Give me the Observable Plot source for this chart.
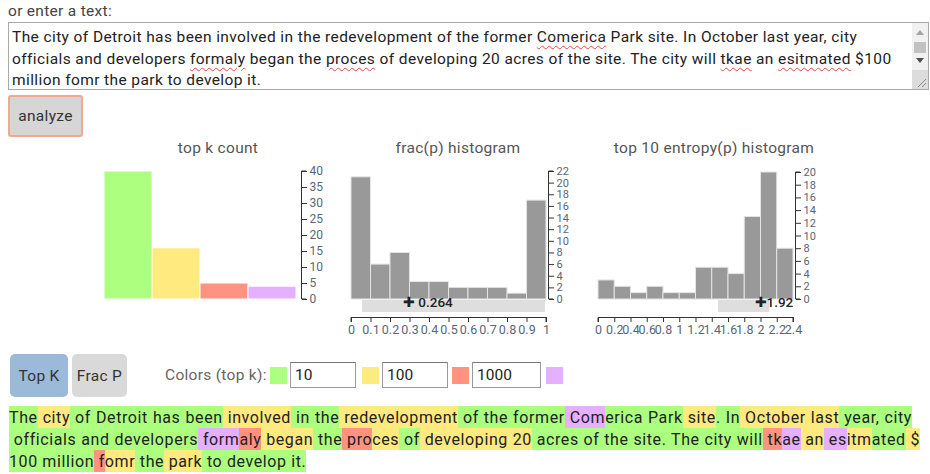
<!DOCTYPE html>
<html><head><meta charset="utf-8">
<script src="https://cdn.jsdelivr.net/npm/d3@7"></script>
<script src="https://cdn.jsdelivr.net/npm/@observablehq/plot@0.6"></script>
<style>
body{margin:0;background:#fff;font-family:Roboto,"Noto Sans",sans-serif;color:#333;}
#root{position:relative;width:930px;height:474px;overflow:hidden;}
.abs{position:absolute;}
.lbl{left:8px;top:2px;font-size:15.5px;color:#444;letter-spacing:0.3px;}
.ta{left:8px;top:22px;width:919px;height:66px;border:1px solid #a9a9a9;background:#fff;overflow:hidden;}
.ta .txt{position:absolute;left:3px;top:4px;font-size:15.5px;letter-spacing:0.4px;line-height:21.5px;color:#222;white-space:pre;}
.mis{text-decoration:underline wavy #e64545;text-decoration-thickness:1px;text-underline-offset:3px;}
.sb{position:absolute;right:0;top:0;width:16px;height:66px;background:#f1f1f1;}
.btn{font-size:15.5px;color:#333;display:flex;align-items:center;justify-content:center;box-sizing:border-box;letter-spacing:0.3px;}
.title{font-size:15.5px;color:#555;text-align:center;letter-spacing:0.3px;white-space:nowrap;}
.inp{box-sizing:border-box;height:26px;border:1px solid #999;border-top-color:#777;background:#fff;font-size:15.5px;color:#222;padding-left:4px;line-height:24px;}
.sw{width:17px;height:17px;}
.tok{padding:1.5px 0;}
.line{left:9px;font-size:16px;letter-spacing:0.6px;line-height:22px;height:22px;color:#222;white-space:nowrap;}
.just{text-align:justify;text-align-last:justify;}
svg g[aria-label^="y-axis"] text, svg g[aria-label^="x-axis"] text{fill:#5b6677;}
svg g[aria-label^="x-axis"] text{font-size:12.5px;}
svg.hist g[aria-label^="y-axis"] text{font-size:11px;}
</style></head><body><div id="root"></div>
<script>
// ---------------- data ----------------
const inputLines = [
  "The city of Detroit has been involved in the redevelopment of the former Comerica Park site. In October last year, city",
  "officials and developers formaly began the proces of developing 20 acres of the site. The city will tkae an esitmated $100",
  "million fomr the park to develop it."
];
const misspelled = ["Comerica","formaly","proces","tkae","esitmated"];

const rankColors = ["#ADFF80","#FFEA80","#FF9280","#E5B0FF"];
const rankLabels = ["top 10","top 100","top 1000","rest"];
const topKCounts = [40,16,5,4];
const topKTicks = [0,5,10,15,20,25,30,35,40];

const fracEdges = [0,0.1,0.2,0.3,0.4,0.5,0.6,0.7,0.8,0.9,1];
const fracCounts = [21,6,8,3,3,2,2,2,1,17];
const fracYTicks = [0,2,4,6,8,10,12,14,16,18,20,22];
const fracMean = 0.264;
const fracBand = [0.056,0.995];

const entEdges = [0,0.2,0.4,0.6,0.8,1,1.2,1.4,1.6,1.8,2,2.2,2.4];
const entCounts = [3,2,1,2,1,1,5,5,4,13,20,8];
const entYTicks = [0,2,4,6,8,10,12,14,16,18,20];
const entMean = 1.92;
const entBand = [1.477,2.105];

const kThresholds = ["10","100","1000"];

const line1Tokens = ["The"," city"," of"," Detroit"," has"," been"," involved"," in"," the"," redevelopment"," of"," the"," former"," Com","erica"," Park"," site","."," In"," October"," last"," year",","," city"];
const line1Ranks  = [0,1,0,0,0,0,1,0,0,1,0,0,0,3,0,0,1,0,0,1,1,0,0,0];
const line2Tokens = [" officials"," and"," developers"," form","aly"," began"," the"," pro","ces"," of"," developing"," 20"," acres"," of"," the"," site","."," The"," city"," will"," tk","ae"," an"," es","itm","ated"," $"];
const line2Ranks  = [0,0,0,3,2,1,0,2,1,0,1,1,0,0,0,0,0,0,0,0,2,3,1,3,1,0,1];
const line3Tokens = ["100"," million"," f","omr"," the"," park"," to"," develop"," it","."];
const line3Ranks  = [0,0,2,1,0,1,0,0,0,0];

// ---------------- layout helpers ----------------
const root = d3.select("#root");
const FONT = "Roboto, 'Noto Sans', sans-serif";
function box(cls, left, top, w, h){
  const d = root.append("div").attr("class","abs "+cls).style("left",left+"px").style("top",top+"px");
  if (w!=null) d.style("width",w+"px");
  if (h!=null) d.style("height",h+"px");
  return d;
}

// label + textarea
box("lbl",8,2).text("or enter a text:");
const ta = box("ta",8,22);
const txt = ta.append("div").attr("class","txt");
inputLines.forEach(line=>{
  const row = txt.append("div");
  line.split(/(\s+)/).forEach(part=>{
    const w = part.replace(/[.,]/g,"");
    row.append("span").attr("class", misspelled.includes(w) ? "mis" : null).text(part);
  });
});
const sb = ta.append("div").attr("class","sb");
sb.append("div").style("position","absolute").style("left","4px").style("top","7px").style("width","0").style("height","0")
  .style("border-left","4px solid transparent").style("border-right","4px solid transparent").style("border-bottom","5px solid #a3a3a3");
sb.append("div").style("position","absolute").style("left","2px").style("top","19px").style("width","12px").style("height","11px").style("background","#c1c1c1");
sb.append("div").style("position","absolute").style("left","4px").style("top","35px").style("width","0").style("height","0")
  .style("border-left","4px solid transparent").style("border-right","4px solid transparent").style("border-top","5px solid #505050");
sb.append("div").style("position","absolute").style("left","0").style("top","47px").style("width","16px").style("height","19px").style("background","#dcdcdc")
  .html('<svg width="16" height="19"><path d="M6,17L14,9M10,17L14,13" stroke="#8a8a8a" stroke-width="1"/></svg>');

// analyze button
box("btn",8,95,75,42).style("background","#d6d6d6").style("border","2px solid #f3a88e").style("border-radius","3px").text("analyze");

// titles
box("title",118,139,200).text("top k count");
box("title",358,139,200).text("frac(p) histogram");
box("title",584,139,260).text("top 10 entropy(p) histogram");

// ---------------- charts ----------------
const baseStyle = {fontFamily: FONT, fontSize: "12px", color: "#333", background: "transparent", overflow: "visible"};

function addDomainY(svgNode, plot, axisX){
  const r = plot.scale("y").range;
  d3.select(svgNode).append("path").attr("fill","none").attr("stroke","#333")
    .attr("d", `M${axisX+5},${r[1]}H${axisX+0.5}V${r[0]}H${axisX+5}`);
}
function addDomainX(svgNode, plot, axisY){
  const r = plot.scale("x").range;
  d3.select(svgNode).append("path").attr("fill","none").attr("stroke","#333")
    .attr("d", `M${r[0]},${axisY+5}V${axisY+0.5}H${r[1]}V${axisY+5}`);
}

// chart 1: top k count
const topKData = rankLabels.map((k,i)=>({k, n: topKCounts[i], c: rankColors[i]}));
const c1 = Plot.plot({
  width: 240, height: 170, marginLeft: 12, marginRight: 29, marginTop: 33, marginBottom: 9,
  style: baseStyle,
  x: {domain: rankLabels, axis: null, padding: 0, insetRight: 4},
  y: {domain: [0,40], ticks: topKTicks, axis: "right", tickSize: 5, tickPadding: 3, label: null},
  color: {type: "identity"},
  marks: [ Plot.barY(topKData, {x: "k", y: "n", fill: "c", stroke: "#fff", strokeWidth: 1}) ]
});
root.append(()=>c1).style("position","absolute").style("left","90px").style("top","138px");
addDomainY(c1, c1, 240-29);

// chart 2: frac(p) histogram
const fracBins = fracCounts.map((n,i)=>({x1: fracEdges[i], x2: fracEdges[i+1], n}));
const c2 = Plot.plot({
  width: 240, height: 205, marginLeft: 11, marginRight: 32, marginTop: 33, marginBottom: 26,
  style: baseStyle,
  x: {domain: [0,1], insetRight: 2, ticks: fracEdges, tickFormat: d=>String(d), tickSize: 5, tickPadding: 3, label: null},
  y: {domain: [0,22], insetBottom: 18, ticks: fracYTicks, axis: "right", tickSize: 5, tickPadding: 3, label: null},
  marks: [
    Plot.rectY(fracBins, {x1: "x1", x2: "x2", y: "n", fill: "#999", stroke: "#e4e4e4", strokeWidth: 1}),
    Plot.rect([fracBand], {x1: d=>d[0], x2: d=>d[1], fill: "#dedede", insetTop: 129, insetBottom: 5}),
    Plot.text([fracMean], {x: d=>d, text: d=>"\u271A " + d, frameAnchor: "bottom", dy: -11, textAnchor: "start", fontSize: 13.5, fill: "#222", fontWeight: 500})
  ]
});
d3.select(c2).classed("hist", true);
root.append(()=>c2).style("position","absolute").style("left","340px").style("top","138px");
addDomainY(c2, c2, 240-32);
addDomainX(c2, c2, 205-26);

// chart 3: entropy histogram
const entBins = entCounts.map((n,i)=>({x1: entEdges[i], x2: entEdges[i+1], n}));
const c3 = Plot.plot({
  width: 240, height: 205, marginLeft: 8, marginRight: 35, marginTop: 34, marginBottom: 26,
  style: baseStyle,
  x: {domain: [0,2.4], insetRight: 2, ticks: entEdges, tickFormat: d=>String(d), tickSize: 5, tickPadding: 3, label: null},
  y: {domain: [0,20], insetBottom: 18, ticks: entYTicks, axis: "right", tickSize: 5, tickPadding: 3, label: null},
  marks: [
    Plot.rectY(entBins, {x1: "x1", x2: "x2", y: "n", fill: "#999", stroke: "#e4e4e4", strokeWidth: 1}),
    Plot.rect([entBand], {x1: d=>d[0], x2: d=>d[1], fill: "#dedede", insetTop: 128, insetBottom: 5}),
    Plot.text([entMean], {x: d=>d, text: d=>"\u271A" + d, frameAnchor: "bottom", dy: -11, textAnchor: "start", fontSize: 13.5, fill: "#222", fontWeight: 500})
  ]
});
d3.select(c3).classed("hist", true);
root.append(()=>c3).style("position","absolute").style("left","590px").style("top","138px");
addDomainY(c3, c3, 240-35);
addDomainX(c3, c3, 205-26);

// ---------------- controls row ----------------
box("btn",10,354,58,43).style("background","#9bb9d9").style("border-radius","5px").text("Top K");
box("btn",72,354,55,43).style("background","#d9d9d9").style("border-radius","5px").text("Frac P");
box("",165,366).style("font-size","15.5px").style("letter-spacing","0.3px").style("color","#6a6460").text("Colors (top k):");
const swX = [270,362,452,546];
const inX = [290,382,472];
const inW = [66,66,69];
rankColors.forEach((c,i)=>{ box("sw",swX[i],367).style("background",c); });
kThresholds.forEach((k,i)=>{ box("inp",inX[i],362,inW[i]).text(k); });

// ---------------- colored tokens ----------------
const lines = [
  {tokens: line1Tokens, ranks: line1Ranks, top: 406, width: 903, just: true},
  {tokens: line2Tokens, ranks: line2Ranks, top: 428, width: 911, just: true},
  {tokens: line3Tokens, ranks: line3Ranks, top: 450, width: null, just: false}
];
lines.forEach(L=>{
  const d = box("line" + (L.just ? " just" : ""), 9, L.top, L.width);
  L.tokens.forEach((t,i)=>{
    const shown = i === 0 ? t.replace(/^ /, "\u00a0") : t;
    d.append("span").attr("class","tok").style("background", rankColors[L.ranks[i]]).text(shown);
  });
});
</script></body></html>
